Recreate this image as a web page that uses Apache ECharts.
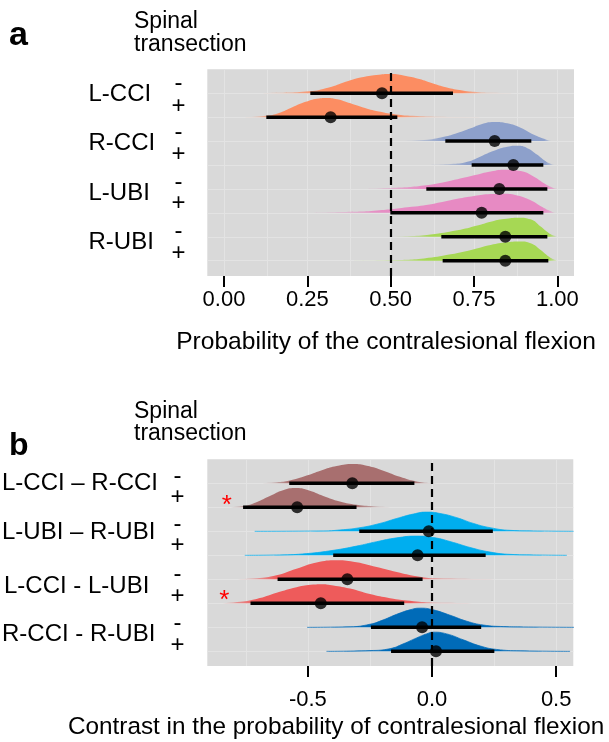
<!DOCTYPE html>
<html><head><meta charset="utf-8">
<script src="https://cdn.jsdelivr.net/npm/echarts@6/dist/echarts.min.js"></script>
<style>html,body{margin:0;padding:0;background:#fff}#c{width:609px;height:742px}</style>
</head><body><div id="c"></div>
<script>
// ---------- Panel a data ----------
const groupsA = ['L-CCI', 'R-CCI', 'L-UBI', 'R-UBI'];
const transection = ['-', '+'];
const ticksA = [0, 0.25, 0.5, 0.75, 1.0];
const gridA = [0, 0.125, 0.25, 0.375, 0.5, 0.625, 0.75, 0.875, 1.0];
const refA = 0.5;
const medianA = [0.474, 0.320, 0.812, 0.868, 0.826, 0.773, 0.844, 0.844];
const lowerA  = [0.259, 0.127, 0.664, 0.743, 0.607, 0.499, 0.652, 0.656];
const upperA  = [0.687, 0.520, 0.922, 0.958, 0.970, 0.958, 0.970, 0.973];
const densA1 = [[0.10,0],[0.135,0.01],[0.255,0.1],[0.315,0.3],[0.365,0.6],[0.414,0.84],[0.465,0.97],[0.5,1.0],[0.546,0.9],[0.586,0.74],[0.625,0.52],[0.666,0.31],[0.715,0.14],[0.766,0.05],[0.806,0.02],[0.865,0]];
const densA2 = [[0.064,0],[0.125,0.07],[0.165,0.22],[0.205,0.52],[0.245,0.8],[0.285,0.98],[0.31,1.0],[0.34,0.93],[0.365,0.8],[0.415,0.52],[0.465,0.29],[0.516,0.14],[0.566,0.07],[0.646,0.02],[0.78,0]];
const densA3 = [[0.53,0],[0.6,0.05],[0.66,0.22],[0.70,0.42],[0.74,0.67],[0.77,0.87],[0.81,1.0],[0.85,0.93],[0.89,0.7],[0.93,0.33],[0.96,0.12],[0.975,0.03],[0.985,0]];
const densA4 = [[0.6,0],[0.68,0.05],[0.73,0.17],[0.77,0.45],[0.81,0.74],[0.85,0.95],[0.88,1.0],[0.91,0.88],[0.94,0.53],[0.965,0.19],[0.985,0.03],[0.995,0]];
const densA5 = [[0.42,0],[0.5,0.05],[0.6,0.18],[0.68,0.43],[0.75,0.71],[0.8,0.91],[0.845,1.0],[0.89,0.93],[0.93,0.63],[0.96,0.29],[0.985,0.07],[1.0,0]];
const densA6 = [[0.25,0],[0.35,0.04],[0.45,0.11],[0.55,0.29],[0.63,0.48],[0.7,0.73],[0.75,0.88],[0.8,0.98],[0.84,1.0],[0.88,0.91],[0.92,0.66],[0.955,0.3],[0.985,0.05],[1.0,0]];
const densA7 = [[0.47,0],[0.55,0.03],[0.62,0.12],[0.7,0.34],[0.76,0.59],[0.8,0.79],[0.84,0.93],[0.885,1.0],[0.92,0.91],[0.95,0.53],[0.975,0.19],[0.995,0.03],[1.0,0]];
const densA8 = [[0.39,0],[0.5,0.03],[0.6,0.12],[0.68,0.33],[0.75,0.6],[0.8,0.82],[0.85,0.96],[0.89,1.0],[0.92,0.91],[0.95,0.56],[0.975,0.21],[0.995,0.03],[1.0,0]];
const colorsA = ['#FC8D62', '#8DA0CB', '#E78AC3', '#A6D854'];

// ---------- Panel b data ----------
const groupsB = ['L-CCI \u2013 R-CCI', 'L-UBI \u2013 R-UBI', 'L-CCI - L-UBI', 'R-CCI - R-UBI'];
const ticksB = [-0.5, 0, 0.5];
const gridB = [-0.75, -0.5, -0.25, 0, 0.25, 0.5];
const refB = 0;
const medianB = [-0.321, -0.543, -0.013, -0.058, -0.341, -0.448, -0.040, 0.016];
const lowerB  = [-0.575, -0.761, -0.293, -0.398, -0.622, -0.731, -0.246, -0.165];
const upperB  = [-0.071, -0.304, 0.245, 0.216, -0.038, -0.112, 0.198, 0.251];
const starredB = [false, true, false, false, false, true, false, false];
const densB1 = [[-0.687,0],[-0.626,0.05],[-0.573,0.14],[-0.505,0.4],[-0.438,0.71],[-0.384,0.9],[-0.317,1.0],[-0.263,0.91],[-0.196,0.66],[-0.129,0.34],[-0.062,0.1],[0.005,0.02],[0.1,0]];
const densB2 = [[-0.835,0],[-0.76,0.07],[-0.707,0.27],[-0.653,0.59],[-0.6,0.89],[-0.546,1.0],[-0.492,0.86],[-0.438,0.59],[-0.371,0.3],[-0.304,0.13],[-0.223,0.04],[-0.156,0]];
const densB3 = [[-0.714,0],[-0.438,0.02],[-0.371,0.07],[-0.29,0.19],[-0.21,0.41],[-0.142,0.67],[-0.075,0.9],[-0.022,1.0],[0.032,0.93],[0.1,0.71],[0.167,0.41],[0.234,0.19],[0.315,0.05],[0.409,0.02],[0.57,0]];
const densB4 = [[-0.754,0],[-0.613,0.02],[-0.505,0.09],[-0.398,0.26],[-0.304,0.48],[-0.223,0.71],[-0.142,0.91],[-0.062,1.0],[0.005,0.93],[0.086,0.67],[0.153,0.41],[0.234,0.17],[0.315,0.05],[0.409,0.02],[0.543,0]];
const densB5 = [[-0.8,0],[-0.707,0.05],[-0.626,0.21],[-0.546,0.55],[-0.465,0.88],[-0.384,1.0],[-0.304,0.89],[-0.223,0.64],[-0.142,0.38],[-0.062,0.16],[0.019,0.05],[0.33,0]];
const densB6 = [[-0.88,0],[-0.8,0.05],[-0.707,0.23],[-0.626,0.55],[-0.546,0.84],[-0.478,0.98],[-0.44,1.0],[-0.411,0.96],[-0.33,0.77],[-0.25,0.48],[-0.169,0.27],[-0.089,0.13],[0.005,0.04],[0.26,0]];
const densB7 = [[-0.503,0],[-0.33,0.03],[-0.25,0.16],[-0.196,0.39],[-0.142,0.68],[-0.089,0.91],[-0.048,1.0],[0.005,0.91],[0.073,0.63],[0.14,0.32],[0.207,0.12],[0.288,0.04],[0.368,0.02],[0.58,0]];
const densB8 = [[-0.425,0],[-0.25,0.04],[-0.169,0.14],[-0.116,0.39],[-0.062,0.7],[-0.022,0.91],[0.005,1.0],[0.059,0.91],[0.126,0.6],[0.194,0.28],[0.26,0.1],[0.355,0.03],[0.556,0]];
const colorsB = ['#A86F6F', '#00AEEF', '#EE5B5B', '#006BB8'];
const tailLineB = [false, true, false, true];

const densA = [densA1, densA2, densA3, densA4, densA5, densA6, densA7, densA8];
const densB = [densB1, densB2, densB3, densB4, densB5, densB6, densB7, densB8];

const FONT = '"Liberation Sans", Arial, Helvetica, sans-serif';
const SLAB = 0.8;
const rowY = i => 8 - i;

function hexA(hex, a) {
  const n = parseInt(hex.slice(1), 16);
  return 'rgba(' + (n >> 16 & 255) + ',' + (n >> 8 & 255) + ',' + (n & 255) + ',' + a.toFixed(3) + ')';
}
// horizontal fade of the slab tails (alpha follows the slab height)
function fadeFill(d, color) {
  const x0 = d[0][0], x1 = d[d.length - 1][0];
  return {
    type: 'linear', x: 0, y: 0, x2: 1, y2: 0,
    colorStops: d.map(([x, h]) => ({ offset: (x - x0) / (x1 - x0), color: hexA(color, Math.min(1, 0.15 + h * 7)) }))
  };
}

function panelSeries(p, dens, colors, tailLine, med, lo, hi, ref, gridX) {
  const s = [];
  s.push({
    type: 'line', xAxisIndex: p, yAxisIndex: p, data: [], z: 1, silent: true,
    markLine: {
      z: 1, silent: true, symbol: 'none', label: { show: false }, animation: false,
      lineStyle: { color: '#E3E3E3', width: 1, type: 'solid' },
      data: gridX.map(v => ({ xAxis: v })).concat([1,2,3,4,5,6,7,8].map(v => ({ yAxis: v })))
    }
  });
  dens.forEach((d, i) => {
    const g = Math.floor(i / 2);
    const base = rowY(i);
    const tl = tailLine && tailLine[g];
    s.push({
      type: 'line', xAxisIndex: p, yAxisIndex: p, z: 2, silent: true,
      data: d.map(([x, h]) => [x, base + h * SLAB]),
      showSymbol: false, smooth: 0.5,
      lineStyle: { width: tl ? 1 : 0, color: tl ? hexA(colors[g], 0.75) : colors[g] },
      areaStyle: { color: tl ? colors[g] : fadeFill(d, colors[g]), opacity: 1, origin: base }
    });
  });
  s.push({
    type: 'line', xAxisIndex: p, yAxisIndex: p, data: [], z: 3, silent: true,
    markLine: {
      z: 3, silent: true, symbol: 'none', label: { show: false }, animation: false,
      lineStyle: { color: '#000', width: 2.2, type: [8, 5] },
      data: [{ xAxis: ref }]
    }
  });
  med.forEach((m, i) => {
    const y = rowY(i);
    s.push({
      type: 'line', xAxisIndex: p, yAxisIndex: p, z: 4, silent: true,
      data: [[lo[i], y], [hi[i], y]], showSymbol: false,
      lineStyle: { color: '#000', width: 3.5 }
    });
  });
  s.push({
    type: 'scatter', xAxisIndex: p, yAxisIndex: p, z: 5, silent: true,
    symbolSize: 12, itemStyle: { color: '#000' },
    data: med.map((m, i) => [m, rowY(i)])
  });
  return s;
}

function xAx(p, min, max, ticks, fmt, margin) {
  return {
    type: 'value', gridIndex: p, min: min, max: max,
    axisLine: { show: false }, splitLine: { show: false },
    axisTick: { show: true, length: 11, inside: false, customValues: ticks, lineStyle: { color: '#000', width: 2 } },
    axisLabel: { show: true, customValues: ticks, formatter: fmt, color: '#000', fontSize: 22, fontFamily: FONT, margin: margin }
  };
}
function yAx(p, min, max) {
  return { type: 'value', gridIndex: p, min: min, max: max, show: false, splitLine: { show: false } };
}

const graphics = [];
function txt(t, x, y, size, opts) {
  graphics.push({
    type: 'text', silent: true,
    style: Object.assign({ text: t, x: x, y: y, fill: '#000', fontSize: size, fontFamily: FONT,
      textAlign: 'left', textVerticalAlign: 'middle' }, opts || {})
  });
}
txt('a', 9, 36, 34, { fontWeight: 'bold' });
txt('Spinal', 134, 22, 23);
txt('transection', 134, 45, 23);
const grpYA = [94, 143, 193.5, 242];
const minusYA = [83, 132, 182.5, 231];
const plusYA = [106, 154.5, 203.5, 253.5];
groupsA.forEach((g, i) => {
  txt(g, 88.5, grpYA[i], 24);
  txt(transection[0], 178.5, minusYA[i], 24, { textAlign: 'center' });
  txt(transection[1], 178.5, plusYA[i], 24, { textAlign: 'center' });
});
txt('Probability of the contralesional flexion', 386, 342, 24.6, { textAlign: 'center' });
txt('b', 9, 446, 32, { fontWeight: 'bold' });
txt('Spinal', 134, 412, 23);
txt('transection', 134, 434, 23);
const grpXB = [2, 2, 4, 2];
const grpYB = [483, 532, 586, 634];
const minusYB = [476, 524.5, 574.5, 623];
const plusYB = [497, 545, 596, 645];
groupsB.forEach((g, i) => {
  txt(g, grpXB[i], grpYB[i], 24);
  txt(transection[0], 177.5, minusYB[i], 24, { textAlign: 'center' });
  txt(transection[1], 177.5, plusYB[i], 24, { textAlign: 'center' });
});
const starPos = { 1: [226.7, 506], 5: [224.3, 600.5] };
starredB.forEach((st, i) => {
  if (st) txt('*', starPos[i][0], starPos[i][1], 26, { textAlign: 'center', fill: '#FF0000' });
});
txt('Contrast in the probability of contralesional flexion', 68, 727, 24.3);

const chart = echarts.init(document.getElementById('c'), null, { renderer: 'canvas' });
chart.setOption({
  animation: false,
  backgroundColor: '#fff',
  grid: [
    { left: 207.3, top: 69.3, width: 366.7, height: 206.7, show: true, backgroundColor: '#D9D9D9', borderWidth: 0 },
    { left: 207.3, top: 459.3, width: 366, height: 206.7, show: true, backgroundColor: '#D9D9D9', borderWidth: 0 }
  ],
  xAxis: [
    xAx(0, -0.05, 1.05, ticksA, v => v.toFixed(2), 13),
    xAx(1, -0.905, 0.569, ticksB, v => v.toFixed(1), 23)
  ],
  yAxis: [yAx(0, 0.36, 9), yAx(1, 0.39, 9)],
  series: panelSeries(0, densA, colorsA, null, medianA, lowerA, upperA, refA, gridA)
    .concat(panelSeries(1, densB, colorsB, tailLineB, medianB, lowerB, upperB, refB, gridB)),
  graphic: graphics
});
</script></body></html>
